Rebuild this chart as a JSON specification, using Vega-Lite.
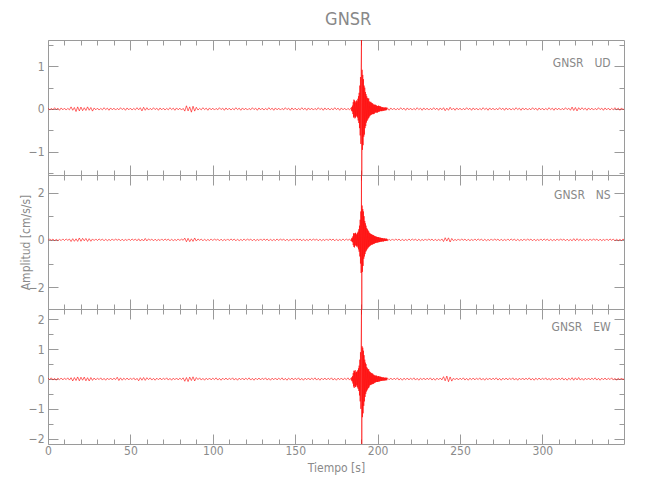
{
"$schema": "https://vega.github.io/schema/vega-lite/v6.json",
"autosize": {"type": "pad"},
"bounds": "flush",
"padding": {"left": 19, "top": 11, "right": 5, "bottom": 5},
"title": {"text": "GNSR", "fontSize": 18, "color": "#888888", "font": "DejaVu Sans Condensed, DejaVu Sans", "fontWeight": "normal", "anchor": "start", "offset": 10, "dx": 306},
"spacing": 0,
"data": {"values": [
{"t":0,"ud":0.02,"ns":-0.03,"ew":0.03},{"t":1,"ud":-0.025,"ns":0.04,"ew":-0.02},{"t":2,"ud":0.015,"ns":-0.02,"ew":0.04},{"t":3,"ud":-0.02,"ns":0.035,"ew":-0.035},{"t":4,"ud":0.03,"ns":-0.04,"ew":0.025},{"t":5,"ud":-0.015,"ns":0.03,"ew":-0.04},{"t":6,"ud":0.02,"ns":-0.035,"ew":0.03},{"t":7,"ud":-0.03,"ns":0.02,"ew":-0.025},{"t":8,"ud":0.025,"ns":-0.03,"ew":0.035},{"t":9,"ud":-0.02,"ns":0.04,"ew":-0.03},
{"t":10,"ud":0.02,"ns":-0.03,"ew":0.03},{"t":11,"ud":-0.025,"ns":0.04,"ew":-0.02},{"t":12,"ud":0.015,"ns":-0.02,"ew":0.04},{"t":13,"ud":-0.02,"ns":0.035,"ew":-0.035},
{"t":14,"ud":0.05,"ns":-0.07,"ew":0.045},{"t":15,"ud":-0.03,"ns":0.05,"ew":-0.065},{"t":16,"ud":0.035,"ns":-0.06,"ew":0.05},{"t":17,"ud":-0.06,"ns":0.045,"ew":-0.05},{"t":18,"ud":0.05,"ns":-0.065,"ew":0.07},{"t":19,"ud":-0.045,"ns":0.08,"ew":-0.06},{"t":20,"ud":0.045,"ns":-0.06,"ew":0.06},{"t":21,"ud":-0.04,"ns":0.065,"ew":-0.04},{"t":22,"ud":0.03,"ns":-0.04,"ew":0.065},{"t":23,"ud":-0.035,"ns":0.06,"ew":-0.06},{"t":24,"ud":0.05,"ns":-0.065,"ew":0.045},{"t":25,"ud":-0.03,"ns":0.05,"ew":-0.065},{"t":26,"ud":0.035,"ns":-0.06,"ew":0.05},{"t":27,"ud":-0.05,"ns":0.04,"ew":-0.045},
{"t":28,"ud":0.025,"ns":-0.03,"ew":0.035},{"t":29,"ud":-0.02,"ns":0.04,"ew":-0.03},
{"t":30,"ud":0.02,"ns":-0.03,"ew":0.03},{"t":31,"ud":-0.025,"ns":0.04,"ew":-0.02},{"t":32,"ud":0.015,"ns":-0.02,"ew":0.04},{"t":33,"ud":-0.02,"ns":0.035,"ew":-0.035},{"t":34,"ud":0.03,"ns":-0.04,"ew":0.025},{"t":35,"ud":-0.015,"ns":0.03,"ew":-0.04},{"t":36,"ud":0.02,"ns":-0.035,"ew":0.03},{"t":37,"ud":-0.03,"ns":0.02,"ew":-0.025},{"t":38,"ud":0.025,"ns":-0.03,"ew":0.035},{"t":39,"ud":-0.02,"ns":0.04,"ew":-0.03},
{"t":40,"ud":0.02,"ns":-0.03,"ew":0.03},{"t":41,"ud":-0.025,"ns":0.04,"ew":-0.02},{"t":42,"ud":0.015,"ns":-0.02,"ew":0.06},{"t":43,"ud":-0.02,"ns":0.035,"ew":-0.05},{"t":44,"ud":0.03,"ns":-0.04,"ew":0.04},{"t":45,"ud":-0.015,"ns":0.03,"ew":-0.04},{"t":46,"ud":0.02,"ns":-0.035,"ew":0.03},{"t":47,"ud":-0.03,"ns":0.02,"ew":-0.025},{"t":48,"ud":0.025,"ns":-0.03,"ew":0.035},{"t":49,"ud":-0.02,"ns":0.04,"ew":-0.03},
{"t":50,"ud":0.02,"ns":-0.03,"ew":0.03},{"t":51,"ud":-0.025,"ns":0.04,"ew":-0.02},{"t":52,"ud":0.015,"ns":-0.02,"ew":0.04},{"t":53,"ud":-0.02,"ns":0.035,"ew":-0.035},{"t":54,"ud":0.03,"ns":-0.04,"ew":0.025},{"t":55,"ud":-0.02,"ns":0.045,"ew":-0.06},{"t":56,"ud":0.03,"ns":-0.05,"ew":0.045},{"t":57,"ud":-0.045,"ns":0.03,"ew":-0.04},{"t":58,"ud":0.04,"ns":-0.045,"ew":0.05},{"t":59,"ud":-0.03,"ns":0.06,"ew":-0.045},
{"t":60,"ud":0.03,"ns":-0.045,"ew":0.045},{"t":61,"ud":-0.025,"ns":0.04,"ew":-0.02},{"t":62,"ud":0.015,"ns":-0.02,"ew":0.04},{"t":63,"ud":-0.02,"ns":0.035,"ew":-0.035},{"t":64,"ud":0.03,"ns":-0.04,"ew":0.025},{"t":65,"ud":-0.015,"ns":0.03,"ew":-0.04},{"t":66,"ud":0.02,"ns":-0.035,"ew":0.03},{"t":67,"ud":-0.03,"ns":0.02,"ew":-0.025},{"t":68,"ud":0.025,"ns":-0.03,"ew":0.035},{"t":69,"ud":-0.02,"ns":0.04,"ew":-0.03},
{"t":70,"ud":0.02,"ns":-0.03,"ew":0.03},{"t":71,"ud":-0.025,"ns":0.04,"ew":-0.02},{"t":72,"ud":0.015,"ns":-0.02,"ew":0.04},{"t":73,"ud":-0.02,"ns":0.035,"ew":-0.035},{"t":74,"ud":0.03,"ns":-0.04,"ew":0.025},{"t":75,"ud":-0.015,"ns":0.03,"ew":-0.04},{"t":76,"ud":0.02,"ns":-0.035,"ew":0.03},{"t":77,"ud":-0.03,"ns":0.02,"ew":-0.025},{"t":78,"ud":0.025,"ns":-0.03,"ew":0.035},{"t":79,"ud":-0.02,"ns":0.04,"ew":-0.03},
{"t":80,"ud":0.02,"ns":-0.03,"ew":0.03},{"t":81,"ud":-0.025,"ns":0.04,"ew":-0.02},{"t":82,"ud":0.015,"ns":-0.02,"ew":0.04},{"t":83,"ud":-0.05,"ns":0.075,"ew":-0.075},{"t":84,"ud":0.075,"ns":-0.08,"ew":0.05},{"t":85,"ud":-0.045,"ns":0.065,"ew":-0.085},{"t":86,"ud":0.05,"ns":-0.075,"ew":0.065},{"t":87,"ud":-0.075,"ns":0.045,"ew":-0.05},{"t":88,"ud":0.065,"ns":-0.065,"ew":0.075},{"t":89,"ud":-0.05,"ns":0.08,"ew":-0.065},
{"t":90,"ud":0.04,"ns":-0.05,"ew":0.05},{"t":91,"ud":-0.025,"ns":0.04,"ew":-0.02},{"t":92,"ud":0.015,"ns":-0.02,"ew":0.04},{"t":93,"ud":-0.02,"ns":0.035,"ew":-0.035},{"t":94,"ud":0.03,"ns":-0.04,"ew":0.025},{"t":95,"ud":-0.015,"ns":0.03,"ew":-0.04},{"t":96,"ud":0.02,"ns":-0.035,"ew":0.03},{"t":97,"ud":-0.03,"ns":0.02,"ew":-0.025},{"t":98,"ud":0.025,"ns":-0.03,"ew":0.035},{"t":99,"ud":-0.02,"ns":0.04,"ew":-0.03},
{"t":100,"ud":0.02,"ns":-0.03,"ew":0.03},{"t":101,"ud":-0.025,"ns":0.04,"ew":-0.02},{"t":102,"ud":0.015,"ns":-0.02,"ew":0.04},{"t":103,"ud":-0.02,"ns":0.035,"ew":-0.035},{"t":104,"ud":0.03,"ns":-0.04,"ew":0.025},{"t":105,"ud":-0.015,"ns":0.03,"ew":-0.04},{"t":106,"ud":0.02,"ns":-0.035,"ew":0.03},{"t":107,"ud":-0.03,"ns":0.02,"ew":-0.025},{"t":108,"ud":0.025,"ns":-0.03,"ew":0.035},{"t":109,"ud":-0.02,"ns":0.04,"ew":-0.03},
{"t":110,"ud":0.02,"ns":-0.03,"ew":0.03},{"t":111,"ud":-0.025,"ns":0.04,"ew":-0.02},{"t":112,"ud":0.015,"ns":-0.02,"ew":0.04},{"t":113,"ud":-0.02,"ns":0.035,"ew":-0.035},{"t":114,"ud":0.03,"ns":-0.04,"ew":0.025},{"t":115,"ud":-0.015,"ns":0.03,"ew":-0.04},{"t":116,"ud":0.02,"ns":-0.035,"ew":0.03},{"t":117,"ud":-0.03,"ns":0.02,"ew":-0.025},{"t":118,"ud":0.025,"ns":-0.03,"ew":0.035},{"t":119,"ud":-0.02,"ns":0.04,"ew":-0.03},
{"t":120,"ud":0.02,"ns":-0.03,"ew":0.03},{"t":121,"ud":-0.025,"ns":0.04,"ew":-0.02},{"t":122,"ud":0.015,"ns":-0.02,"ew":0.04},{"t":123,"ud":-0.02,"ns":0.035,"ew":-0.035},{"t":124,"ud":0.03,"ns":-0.04,"ew":0.025},{"t":125,"ud":-0.015,"ns":0.03,"ew":-0.04},{"t":126,"ud":0.02,"ns":-0.035,"ew":0.03},{"t":127,"ud":-0.03,"ns":0.02,"ew":-0.025},{"t":128,"ud":0.025,"ns":-0.03,"ew":0.035},{"t":129,"ud":-0.02,"ns":0.04,"ew":-0.03},
{"t":130,"ud":0.02,"ns":-0.03,"ew":0.03},{"t":131,"ud":-0.025,"ns":0.04,"ew":-0.02},{"t":132,"ud":0.015,"ns":-0.02,"ew":0.04},{"t":133,"ud":-0.02,"ns":0.035,"ew":-0.035},{"t":134,"ud":0.03,"ns":-0.04,"ew":0.025},{"t":135,"ud":-0.015,"ns":0.03,"ew":-0.04},{"t":136,"ud":0.02,"ns":-0.035,"ew":0.03},{"t":137,"ud":-0.03,"ns":0.02,"ew":-0.025},{"t":138,"ud":0.025,"ns":-0.03,"ew":0.035},{"t":139,"ud":-0.02,"ns":0.04,"ew":-0.03},
{"t":140,"ud":0.02,"ns":-0.03,"ew":0.03},{"t":141,"ud":-0.025,"ns":0.04,"ew":-0.02},{"t":142,"ud":0.015,"ns":-0.02,"ew":0.04},{"t":143,"ud":-0.02,"ns":0.035,"ew":-0.035},{"t":144,"ud":0.03,"ns":-0.04,"ew":0.025},{"t":145,"ud":-0.015,"ns":0.03,"ew":-0.04},{"t":146,"ud":0.02,"ns":-0.035,"ew":0.03},{"t":147,"ud":-0.03,"ns":0.02,"ew":-0.025},{"t":148,"ud":0.025,"ns":-0.03,"ew":0.035},{"t":149,"ud":-0.02,"ns":0.04,"ew":-0.03},
{"t":150,"ud":0.02,"ns":-0.03,"ew":0.03},{"t":151,"ud":-0.025,"ns":0.04,"ew":-0.02},{"t":152,"ud":0.015,"ns":-0.02,"ew":0.04},{"t":153,"ud":-0.02,"ns":0.035,"ew":-0.035},{"t":154,"ud":0.03,"ns":-0.04,"ew":0.025},{"t":155,"ud":-0.015,"ns":0.03,"ew":-0.04},{"t":156,"ud":0.02,"ns":-0.035,"ew":0.03},{"t":157,"ud":-0.03,"ns":0.02,"ew":-0.025},{"t":158,"ud":0.025,"ns":-0.03,"ew":0.035},{"t":159,"ud":-0.02,"ns":0.04,"ew":-0.03},
{"t":160,"ud":0.02,"ns":-0.03,"ew":0.03},{"t":161,"ud":-0.025,"ns":0.04,"ew":-0.02},{"t":162,"ud":0.015,"ns":-0.02,"ew":0.04},{"t":163,"ud":-0.02,"ns":0.035,"ew":-0.035},{"t":164,"ud":0.03,"ns":-0.04,"ew":0.025},{"t":165,"ud":-0.015,"ns":0.03,"ew":-0.04},{"t":166,"ud":0.02,"ns":-0.035,"ew":0.03},{"t":167,"ud":-0.03,"ns":0.02,"ew":-0.025},{"t":168,"ud":0.025,"ns":-0.03,"ew":0.035},{"t":169,"ud":-0.02,"ns":0.04,"ew":-0.03},
{"t":170,"ud":0.02,"ns":-0.03,"ew":0.03},{"t":171,"ud":-0.025,"ns":0.04,"ew":-0.02},{"t":172,"ud":0.015,"ns":-0.02,"ew":0.04},{"t":173,"ud":-0.02,"ns":0.035,"ew":-0.035},{"t":174,"ud":0.03,"ns":-0.04,"ew":0.025},{"t":175,"ud":-0.015,"ns":0.03,"ew":-0.04},{"t":176,"ud":0.02,"ns":-0.035,"ew":0.03},{"t":177,"ud":-0.03,"ns":0.02,"ew":-0.025},{"t":178,"ud":0.025,"ns":-0.03,"ew":0.035},{"t":179,"ud":-0.02,"ns":0.04,"ew":-0.03},
{"t":180,"ud":0.02,"ns":-0.03,"ew":0.03},{"t":181,"ud":-0.025,"ns":0.04,"ew":-0.02},{"t":182,"ud":0.015,"ns":-0.02,"ew":0.04},{"t":183,"ud":-0.02,"ns":0.035,"ew":-0.035},
{"t":184.0,"ud":0.03,"ns":-0.05,"ew":0.04},{"t":184.2,"ud":-0.04,"ns":0.06,"ew":-0.05},{"t":184.4,"ud":0.05,"ns":-0.07,"ew":0.06},{"t":184.6,"ud":-0.06,"ns":0.09,"ew":-0.08},{"t":184.8,"ud":0.08,"ns":-0.1,"ew":0.1},
{"t":185.0,"ud":-0.12,"ns":0.15,"ew":-0.15},{"t":185.2,"ud":0.16,"ns":-0.22,"ew":0.2},{"t":185.4,"ud":-0.2,"ns":0.28,"ew":-0.25},{"t":185.6,"ud":0.22,"ns":-0.3,"ew":0.28},{"t":185.8,"ud":-0.18,"ns":0.26,"ew":-0.3},
{"t":186.0,"ud":0.2,"ns":-0.32,"ew":0.26},{"t":186.2,"ud":-0.22,"ns":0.28,"ew":-0.24},{"t":186.4,"ud":0.18,"ns":-0.25,"ew":0.3},{"t":186.6,"ud":-0.2,"ns":0.3,"ew":-0.27},{"t":186.8,"ud":0.15,"ns":-0.22,"ew":0.22},
{"t":187.0,"ud":-0.18,"ns":0.26,"ew":-0.25},{"t":187.2,"ud":0.2,"ns":-0.28,"ew":0.24},{"t":187.4,"ud":-0.16,"ns":0.22,"ew":-0.2},{"t":187.6,"ud":0.18,"ns":-0.25,"ew":0.26},{"t":187.8,"ud":-0.2,"ns":0.3,"ew":-0.28},
{"t":188.0,"ud":0.24,"ns":-0.32,"ew":0.3},{"t":188.2,"ud":-0.27,"ns":0.35,"ew":-0.33},{"t":188.4,"ud":0.3,"ns":-0.4,"ew":0.36},{"t":188.6,"ud":-0.33,"ns":0.45,"ew":-0.4},{"t":188.8,"ud":0.38,"ns":-0.5,"ew":0.45},
{"t":189.0,"ud":-0.45,"ns":0.6,"ew":-0.55},{"t":189.2,"ud":0.55,"ns":-0.7,"ew":0.65},{"t":189.4,"ud":-0.62,"ns":0.85,"ew":-0.75},{"t":189.6,"ud":0.75,"ns":-1.0,"ew":0.9},{"t":189.8,"ud":-0.82,"ns":1.2,"ew":-1.0},
{"t":190.0,"ud":0.98,"ns":-1.4,"ew":1.17},{"t":190.2,"ud":1.62,"ns":2.74,"ew":2.35},{"t":190.4,"ud":-1.55,"ns":-2.92,"ew":-2.18},{"t":190.6,"ud":0.92,"ns":1.45,"ew":1.1},{"t":190.8,"ud":-0.96,"ns":-1.35,"ew":-1.28},
{"t":191.0,"ud":0.8,"ns":1.3,"ew":1.05},{"t":191.2,"ud":-0.85,"ns":-1.1,"ew":-1.15},{"t":191.4,"ud":0.7,"ns":1.2,"ew":0.95},{"t":191.6,"ud":-0.65,"ns":-0.8,"ew":-0.9},{"t":191.8,"ud":0.55,"ns":1.0,"ew":0.8},
{"t":192.0,"ud":-0.6,"ns":-0.7,"ew":-0.75},{"t":192.2,"ud":0.5,"ns":0.8,"ew":0.65},{"t":192.4,"ud":-0.45,"ns":-0.6,"ew":-0.6},{"t":192.6,"ud":0.4,"ns":0.7,"ew":0.55},{"t":192.8,"ud":-0.4,"ns":-0.5,"ew":-0.5},
{"t":193.0,"ud":0.35,"ns":0.6,"ew":0.5},{"t":193.2,"ud":-0.32,"ns":-0.45,"ew":-0.42},{"t":193.4,"ud":0.3,"ns":0.5,"ew":0.4},{"t":193.6,"ud":-0.28,"ns":-0.4,"ew":-0.38},{"t":193.8,"ud":0.26,"ns":0.45,"ew":0.36},
{"t":194.0,"ud":-0.25,"ns":-0.36,"ew":-0.34},{"t":194.2,"ud":0.24,"ns":0.4,"ew":0.32},{"t":194.4,"ud":-0.22,"ns":-0.32,"ew":-0.3},{"t":194.6,"ud":0.25,"ns":0.36,"ew":0.33},{"t":194.8,"ud":-0.2,"ns":-0.3,"ew":-0.28},
{"t":195.0,"ud":0.18,"ns":0.3,"ew":0.26},{"t":195.2,"ud":-0.17,"ns":-0.26,"ew":-0.22},{"t":195.4,"ud":0.16,"ns":0.28,"ew":0.24},{"t":195.6,"ud":-0.15,"ns":-0.24,"ew":-0.2},{"t":195.8,"ud":0.17,"ns":0.25,"ew":0.22},
{"t":196.0,"ud":-0.14,"ns":-0.22,"ew":-0.19},{"t":196.2,"ud":0.15,"ns":0.24,"ew":0.2},{"t":196.4,"ud":-0.13,"ns":-0.2,"ew":-0.18},{"t":196.6,"ud":0.14,"ns":0.22,"ew":0.19},{"t":196.8,"ud":-0.12,"ns":-0.2,"ew":-0.17},
{"t":197.0,"ud":0.13,"ns":0.21,"ew":0.18},{"t":197.2,"ud":-0.12,"ns":-0.18,"ew":-0.16},{"t":197.4,"ud":0.11,"ns":0.2,"ew":0.15},{"t":197.6,"ud":-0.12,"ns":-0.17,"ew":-0.16},{"t":197.8,"ud":0.1,"ns":0.18,"ew":0.14},
{"t":198.0,"ud":-0.11,"ns":-0.16,"ew":-0.13},{"t":198.2,"ud":0.1,"ns":0.16,"ew":0.12},{"t":198.4,"ud":-0.09,"ns":-0.14,"ew":-0.12},{"t":198.6,"ud":0.1,"ns":0.15,"ew":0.11},{"t":198.8,"ud":-0.08,"ns":-0.13,"ew":-0.11},
{"t":199.0,"ud":0.09,"ns":0.14,"ew":0.12},{"t":199.2,"ud":-0.08,"ns":-0.12,"ew":-0.1},{"t":199.4,"ud":0.08,"ns":0.13,"ew":0.11},{"t":199.6,"ud":-0.09,"ns":-0.12,"ew":-0.1},{"t":199.8,"ud":0.07,"ns":0.12,"ew":0.09},
{"t":200.0,"ud":-0.08,"ns":-0.11,"ew":-0.1},{"t":200.2,"ud":0.07,"ns":0.12,"ew":0.09},{"t":200.4,"ud":-0.07,"ns":-0.1,"ew":-0.09},{"t":200.6,"ud":0.08,"ns":0.11,"ew":0.1},{"t":200.8,"ud":-0.06,"ns":-0.1,"ew":-0.08},
{"t":201.0,"ud":0.07,"ns":0.1,"ew":0.09},{"t":201.2,"ud":-0.06,"ns":-0.09,"ew":-0.08},{"t":201.4,"ud":0.06,"ns":0.09,"ew":0.07},{"t":201.6,"ud":-0.05,"ns":-0.08,"ew":-0.07},{"t":201.8,"ud":0.06,"ns":0.09,"ew":0.08},
{"t":202.0,"ud":-0.05,"ns":-0.08,"ew":-0.06},{"t":202.2,"ud":0.05,"ns":0.08,"ew":0.07},{"t":202.4,"ud":-0.05,"ns":-0.07,"ew":-0.06},{"t":202.6,"ud":0.04,"ns":0.08,"ew":0.06},{"t":202.8,"ud":-0.05,"ns":-0.07,"ew":-0.06},
{"t":203.0,"ud":0.04,"ns":0.07,"ew":0.05},{"t":203.2,"ud":-0.04,"ns":-0.06,"ew":-0.05},{"t":203.4,"ud":0.04,"ns":0.06,"ew":0.06},{"t":203.6,"ud":-0.04,"ns":-0.07,"ew":-0.05},{"t":203.8,"ud":0.03,"ns":0.06,"ew":0.05},
{"t":204.0,"ud":-0.04,"ns":-0.05,"ew":-0.05},{"t":204.2,"ud":0.03,"ns":0.06,"ew":0.04},{"t":204.4,"ud":-0.03,"ns":-0.05,"ew":-0.05},{"t":204.6,"ud":0.04,"ns":0.05,"ew":0.04},{"t":204.8,"ud":-0.03,"ns":-0.05,"ew":-0.04},
{"t":205.0,"ud":0.03,"ns":0.05,"ew":0.05},{"t":205.2,"ud":-0.03,"ns":-0.04,"ew":-0.04},{"t":205.4,"ud":0.03,"ns":0.05,"ew":0.04},{"t":205.6,"ud":-0.02,"ns":-0.04,"ew":-0.04},{"t":205.8,"ud":0.03,"ns":0.04,"ew":0.04},
{"t":206,"ud":0.02,"ns":-0.035,"ew":0.03},{"t":207,"ud":-0.03,"ns":0.02,"ew":-0.025},{"t":208,"ud":0.025,"ns":-0.03,"ew":0.035},{"t":209,"ud":-0.02,"ns":0.04,"ew":-0.03},
{"t":210,"ud":0.02,"ns":-0.03,"ew":0.03},{"t":211,"ud":-0.025,"ns":0.04,"ew":-0.02},{"t":212,"ud":0.015,"ns":-0.02,"ew":0.04},{"t":213,"ud":-0.02,"ns":0.035,"ew":-0.035},{"t":214,"ud":0.03,"ns":-0.04,"ew":0.025},{"t":215,"ud":-0.015,"ns":0.03,"ew":-0.04},{"t":216,"ud":0.02,"ns":-0.035,"ew":0.03},{"t":217,"ud":-0.03,"ns":0.02,"ew":-0.025},{"t":218,"ud":0.025,"ns":-0.03,"ew":0.035},{"t":219,"ud":-0.02,"ns":0.04,"ew":-0.03},
{"t":220,"ud":0.02,"ns":-0.03,"ew":0.03},{"t":221,"ud":-0.025,"ns":0.04,"ew":-0.02},{"t":222,"ud":0.015,"ns":-0.02,"ew":0.04},{"t":223,"ud":-0.02,"ns":0.035,"ew":-0.035},{"t":224,"ud":0.03,"ns":-0.04,"ew":0.025},{"t":225,"ud":-0.015,"ns":0.03,"ew":-0.04},{"t":226,"ud":0.02,"ns":-0.035,"ew":0.03},{"t":227,"ud":-0.03,"ns":0.02,"ew":-0.025},{"t":228,"ud":0.025,"ns":-0.03,"ew":0.035},{"t":229,"ud":-0.02,"ns":0.04,"ew":-0.03},
{"t":230,"ud":0.02,"ns":-0.03,"ew":0.03},{"t":231,"ud":-0.025,"ns":0.04,"ew":-0.02},{"t":232,"ud":0.015,"ns":-0.02,"ew":0.04},{"t":233,"ud":-0.02,"ns":0.035,"ew":-0.035},{"t":234,"ud":0.03,"ns":-0.04,"ew":0.025},{"t":235,"ud":-0.015,"ns":0.03,"ew":-0.04},{"t":236,"ud":0.02,"ns":-0.035,"ew":0.03},{"t":237,"ud":-0.03,"ns":0.02,"ew":-0.025},{"t":238,"ud":0.025,"ns":-0.03,"ew":0.035},{"t":239,"ud":-0.02,"ns":0.04,"ew":-0.03},
{"t":240,"ud":0.03,"ns":-0.07,"ew":0.08},{"t":241,"ud":-0.04,"ns":0.09,"ew":-0.06},{"t":242,"ud":0.02,"ns":-0.05,"ew":0.1},{"t":243,"ud":-0.03,"ns":0.085,"ew":-0.09},{"t":244,"ud":0.04,"ns":-0.09,"ew":0.07},{"t":245,"ud":-0.02,"ns":0.06,"ew":-0.07},{"t":246,"ud":0.02,"ns":-0.035,"ew":0.03},{"t":247,"ud":-0.03,"ns":0.02,"ew":-0.025},{"t":248,"ud":0.025,"ns":-0.03,"ew":0.035},{"t":249,"ud":-0.02,"ns":0.04,"ew":-0.03},
{"t":250,"ud":0.02,"ns":-0.03,"ew":0.03},{"t":251,"ud":-0.025,"ns":0.04,"ew":-0.02},{"t":252,"ud":0.015,"ns":-0.02,"ew":0.04},{"t":253,"ud":-0.02,"ns":0.035,"ew":-0.035},{"t":254,"ud":0.03,"ns":-0.04,"ew":0.025},{"t":255,"ud":-0.015,"ns":0.03,"ew":-0.04},{"t":256,"ud":0.02,"ns":-0.035,"ew":0.03},{"t":257,"ud":-0.03,"ns":0.02,"ew":-0.025},{"t":258,"ud":0.025,"ns":-0.03,"ew":0.035},{"t":259,"ud":-0.02,"ns":0.04,"ew":-0.03},
{"t":260,"ud":0.02,"ns":-0.03,"ew":0.03},{"t":261,"ud":-0.025,"ns":0.04,"ew":-0.02},{"t":262,"ud":0.015,"ns":-0.02,"ew":0.04},{"t":263,"ud":-0.02,"ns":0.035,"ew":-0.035},{"t":264,"ud":0.03,"ns":-0.04,"ew":0.025},{"t":265,"ud":-0.015,"ns":0.03,"ew":-0.04},{"t":266,"ud":0.02,"ns":-0.035,"ew":0.03},{"t":267,"ud":-0.03,"ns":0.02,"ew":-0.025},{"t":268,"ud":0.025,"ns":-0.03,"ew":0.035},{"t":269,"ud":-0.02,"ns":0.04,"ew":-0.03},
{"t":270,"ud":0.02,"ns":-0.03,"ew":0.03},{"t":271,"ud":-0.025,"ns":0.04,"ew":-0.02},{"t":272,"ud":0.015,"ns":-0.02,"ew":0.04},{"t":273,"ud":-0.02,"ns":0.035,"ew":-0.035},{"t":274,"ud":0.03,"ns":-0.04,"ew":0.025},{"t":275,"ud":-0.015,"ns":0.03,"ew":-0.04},{"t":276,"ud":0.02,"ns":-0.035,"ew":0.03},{"t":277,"ud":-0.03,"ns":0.02,"ew":-0.025},{"t":278,"ud":0.025,"ns":-0.03,"ew":0.035},{"t":279,"ud":-0.02,"ns":0.04,"ew":-0.03},
{"t":280,"ud":0.02,"ns":-0.03,"ew":0.03},{"t":281,"ud":-0.025,"ns":0.04,"ew":-0.02},{"t":282,"ud":0.015,"ns":-0.02,"ew":0.04},{"t":283,"ud":-0.02,"ns":0.035,"ew":-0.035},{"t":284,"ud":0.03,"ns":-0.04,"ew":0.025},{"t":285,"ud":-0.015,"ns":0.03,"ew":-0.04},{"t":286,"ud":0.02,"ns":-0.035,"ew":0.03},{"t":287,"ud":-0.03,"ns":0.02,"ew":-0.025},{"t":288,"ud":0.025,"ns":-0.03,"ew":0.035},{"t":289,"ud":-0.02,"ns":0.04,"ew":-0.03},
{"t":290,"ud":0.02,"ns":-0.03,"ew":0.03},{"t":291,"ud":-0.025,"ns":0.04,"ew":-0.02},{"t":292,"ud":0.015,"ns":-0.02,"ew":0.04},{"t":293,"ud":-0.02,"ns":0.035,"ew":-0.035},{"t":294,"ud":0.03,"ns":-0.04,"ew":0.025},{"t":295,"ud":-0.015,"ns":0.03,"ew":-0.04},{"t":296,"ud":0.02,"ns":-0.035,"ew":0.03},{"t":297,"ud":-0.03,"ns":0.02,"ew":-0.025},{"t":298,"ud":0.025,"ns":-0.03,"ew":0.035},{"t":299,"ud":-0.02,"ns":0.04,"ew":-0.03},
{"t":300,"ud":0.02,"ns":-0.03,"ew":0.03},{"t":301,"ud":-0.025,"ns":0.04,"ew":-0.02},{"t":302,"ud":0.015,"ns":-0.02,"ew":0.04},{"t":303,"ud":-0.02,"ns":0.035,"ew":-0.035},{"t":304,"ud":0.03,"ns":-0.04,"ew":0.025},{"t":305,"ud":-0.015,"ns":0.03,"ew":-0.04},{"t":306,"ud":0.02,"ns":-0.035,"ew":0.03},{"t":307,"ud":-0.03,"ns":0.02,"ew":-0.025},{"t":308,"ud":0.025,"ns":-0.03,"ew":0.035},{"t":309,"ud":-0.02,"ns":0.04,"ew":-0.03},
{"t":310,"ud":0.02,"ns":-0.03,"ew":0.03},{"t":311,"ud":-0.025,"ns":0.04,"ew":-0.02},{"t":312,"ud":0.015,"ns":-0.02,"ew":0.04},{"t":313,"ud":-0.02,"ns":0.035,"ew":-0.035},{"t":314,"ud":0.03,"ns":-0.04,"ew":0.025},{"t":315,"ud":-0.015,"ns":0.03,"ew":-0.04},{"t":316,"ud":0.02,"ns":-0.035,"ew":0.03},{"t":317,"ud":-0.03,"ns":0.02,"ew":-0.025},{"t":318,"ud":0.045,"ns":-0.04,"ew":0.045},{"t":319,"ud":-0.035,"ns":0.05,"ew":-0.04},
{"t":320,"ud":0.035,"ns":-0.04,"ew":0.04},{"t":321,"ud":-0.045,"ns":0.05,"ew":-0.03},{"t":322,"ud":0.03,"ns":-0.03,"ew":0.05},{"t":323,"ud":-0.02,"ns":0.035,"ew":-0.035},{"t":324,"ud":0.03,"ns":-0.04,"ew":0.025},{"t":325,"ud":-0.015,"ns":0.03,"ew":-0.04},{"t":326,"ud":0.02,"ns":-0.035,"ew":0.03},{"t":327,"ud":-0.03,"ns":0.02,"ew":-0.025},{"t":328,"ud":0.025,"ns":-0.03,"ew":0.035},{"t":329,"ud":-0.02,"ns":0.04,"ew":-0.03},
{"t":330,"ud":0.02,"ns":-0.03,"ew":0.03},{"t":331,"ud":-0.025,"ns":0.04,"ew":-0.02},{"t":332,"ud":0.015,"ns":-0.02,"ew":0.04},{"t":333,"ud":-0.02,"ns":0.035,"ew":-0.035},{"t":334,"ud":0.03,"ns":-0.04,"ew":0.025},{"t":335,"ud":-0.015,"ns":0.03,"ew":-0.04},{"t":336,"ud":0.02,"ns":-0.035,"ew":0.03},{"t":337,"ud":-0.03,"ns":0.02,"ew":-0.025},{"t":338,"ud":0.025,"ns":-0.03,"ew":0.035},{"t":339,"ud":-0.02,"ns":0.04,"ew":-0.03},
{"t":340,"ud":0.02,"ns":-0.03,"ew":0.03},{"t":341,"ud":-0.025,"ns":0.04,"ew":-0.02},{"t":342,"ud":0.015,"ns":-0.02,"ew":0.04},{"t":343,"ud":-0.02,"ns":0.035,"ew":-0.035},{"t":344,"ud":0.03,"ns":-0.04,"ew":0.025},{"t":345,"ud":-0.015,"ns":0.03,"ew":-0.04},{"t":346,"ud":0.02,"ns":-0.035,"ew":0.03},{"t":347,"ud":-0.03,"ns":0.02,"ew":-0.025},{"t":348,"ud":0.025,"ns":-0.03,"ew":0.035},{"t":349,"ud":-0.02,"ns":0.04,"ew":-0.03},{"t":349.5,"ud":0.01,"ns":-0.02,"ew":0.02}
]},
"vconcat": [
{
"width": 576, "height": 135,
"layer": [
{"mark": {"type": "line", "color": "#ff0000", "strokeWidth": 0.6, "clip": true},
 "encoding": {
  "x": {"field": "t", "type": "quantitative", "scale": {"domain": [0, 349.5], "nice": false, "zero": false},
        "axis": {"orient": "bottom", "title": null, "labels": false, "values": [0,10,20,30,40,50,60,70,80,90,100,110,120,130,140,150,160,170,180,190,200,210,220,230,240,250,260,270,280,290,300,310,320,330,340],
                 "tickSize": {"condition": {"test": "datum.value % 50 === 0", "value": -10}, "value": -5}}},
  "y": {"field": "ud", "type": "quantitative", "scale": {"domain": [-1.55, 1.62], "nice": false, "zero": false},
        "axis": {"orient": "left", "title": null, "values": [-1.5,-1,-0.5,0,0.5,1,1.5], "labelExpr": "datum.value % 1 === 0 ? format(datum.value, 'd') : ''", "labelPadding": 14,
                 "tickSize": {"condition": {"test": "datum.value % 1 === 0", "value": -10}, "value": -5}}}
 }},
{"data": {"values": [{"label": "GNSR\u2003UD"}]},
 "mark": {"type": "text", "align": "right", "baseline": "middle", "fontSize": 12, "color": "#888888", "font": "DejaVu Sans Condensed, DejaVu Sans"},
 "encoding": {
  "x": {"datum": 341.4, "type": "quantitative", "axis": {"orient": "top", "title": null, "labels": false, "values": [0,10,20,30,40,50,60,70,80,90,100,110,120,130,140,150,160,170,180,190,200,210,220,230,240,250,260,270,280,290,300,310,320,330,340],
                 "tickSize": {"condition": {"test": "datum.value % 50 === 0", "value": -10}, "value": -5}}},
  "y": {"datum": 1.09, "type": "quantitative", "axis": {"orient": "right", "title": null, "labels": false, "values": [-1.5,-1,-0.5,0,0.5,1,1.5],
                 "tickSize": {"condition": {"test": "datum.value % 1 === 0", "value": -10}, "value": -5}}},
  "text": {"field": "label"}
 }}
],
"resolve": {"axis": {"x": "independent", "y": "independent"}}
},
{
"width": 576, "height": 134,
"layer": [
{"mark": {"type": "line", "color": "#ff0000", "strokeWidth": 0.6, "clip": true},
 "encoding": {
  "x": {"field": "t", "type": "quantitative", "scale": {"domain": [0, 349.5], "nice": false, "zero": false},
        "axis": {"orient": "bottom", "title": null, "labels": false, "values": [0,10,20,30,40,50,60,70,80,90,100,110,120,130,140,150,160,170,180,190,200,210,220,230,240,250,260,270,280,290,300,310,320,330,340],
                 "tickSize": {"condition": {"test": "datum.value % 50 === 0", "value": -10}, "value": -5}}},
  "y": {"field": "ns", "type": "quantitative", "scale": {"domain": [-2.92, 2.74], "nice": false, "zero": false},
        "axis": {"orient": "left", "title": "Amplitud [cm/s/s]", "titlePadding": -4, "values": [-2,-1,0,1,2], "labelExpr": "datum.value % 2 === 0 ? format(datum.value, 'd') : ''", "labelPadding": 14,
                 "tickSize": {"condition": {"test": "datum.value % 2 === 0", "value": -10}, "value": -5}}}
 }},
{"data": {"values": [{"label": "GNSR\u2003NS"}]},
 "mark": {"type": "text", "align": "right", "baseline": "middle", "fontSize": 12, "color": "#888888", "font": "DejaVu Sans Condensed, DejaVu Sans"},
 "encoding": {
  "x": {"datum": 341.4, "type": "quantitative", "axis": {"orient": "top", "title": null, "labels": false, "values": [0,10,20,30,40,50,60,70,80,90,100,110,120,130,140,150,160,170,180,190,200,210,220,230,240,250,260,270,280,290,300,310,320,330,340],
                 "tickSize": {"condition": {"test": "datum.value % 50 === 0", "value": -10}, "value": -5}}},
  "y": {"datum": 1.88, "type": "quantitative", "axis": {"orient": "right", "title": null, "labels": false, "values": [-2,-1,0,1,2],
                 "tickSize": {"condition": {"test": "datum.value % 2 === 0", "value": -10}, "value": -5}}},
  "text": {"field": "label"}
 }}
],
"resolve": {"axis": {"x": "independent", "y": "independent"}}
},
{
"width": 576, "height": 135,
"layer": [
{"mark": {"type": "line", "color": "#ff0000", "strokeWidth": 0.6, "clip": true},
 "encoding": {
  "x": {"field": "t", "type": "quantitative", "scale": {"domain": [0, 349.5], "nice": false, "zero": false},
        "axis": {"orient": "bottom", "title": "Tiempo [s]", "titlePadding": 1, "labelPadding": 11, "values": [0,10,20,30,40,50,60,70,80,90,100,110,120,130,140,150,160,170,180,190,200,210,220,230,240,250,260,270,280,290,300,310,320,330,340],
                 "labelExpr": "datum.value % 50 === 0 ? format(datum.value, 'd') : ''",
                 "tickSize": {"condition": {"test": "datum.value % 50 === 0", "value": -10}, "value": -5}}},
  "y": {"field": "ew", "type": "quantitative", "scale": {"domain": [-2.18, 2.35], "nice": false, "zero": false},
        "axis": {"orient": "left", "title": null, "values": [-2,-1.5,-1,-0.5,0,0.5,1,1.5,2], "labelExpr": "datum.value % 1 === 0 ? format(datum.value, 'd') : ''", "labelPadding": 14,
                 "tickSize": {"condition": {"test": "datum.value % 1 === 0", "value": -10}, "value": -5}}}
 }},
{"data": {"values": [{"label": "GNSR\u2003EW"}]},
 "mark": {"type": "text", "align": "right", "baseline": "middle", "fontSize": 12, "color": "#888888", "font": "DejaVu Sans Condensed, DejaVu Sans"},
 "encoding": {
  "x": {"datum": 341.4, "type": "quantitative", "axis": {"orient": "top", "title": null, "labels": false, "values": [0,10,20,30,40,50,60,70,80,90,100,110,120,130,140,150,160,170,180,190,200,210,220,230,240,250,260,270,280,290,300,310,320,330,340],
                 "tickSize": {"condition": {"test": "datum.value % 50 === 0", "value": -10}, "value": -5}}},
  "y": {"datum": 1.76, "type": "quantitative", "axis": {"orient": "right", "title": null, "labels": false, "values": [-2,-1.5,-1,-0.5,0,0.5,1,1.5,2],
                 "tickSize": {"condition": {"test": "datum.value % 1 === 0", "value": -10}, "value": -5}}},
  "text": {"field": "label"}
 }}
],
"resolve": {"axis": {"x": "independent", "y": "independent"}}
}
],
"config": {
 "view": {"stroke": null},
 "concat": {"spacing": 0},
 "axis": {"domainColor": "#9a9a9a", "tickColor": "#9a9a9a", "labelColor": "#8a8a8a", "titleColor": "#8a8a8a",
          "labelFont": "DejaVu Sans Condensed, DejaVu Sans", "titleFont": "DejaVu Sans Condensed, DejaVu Sans",
          "labelFontSize": 12, "titleFontSize": 12, "titleFontWeight": "normal", "grid": false,
          "labelFlush": false, "labelOverlap": false, "domainWidth": 1, "tickWidth": 1}
}
}
